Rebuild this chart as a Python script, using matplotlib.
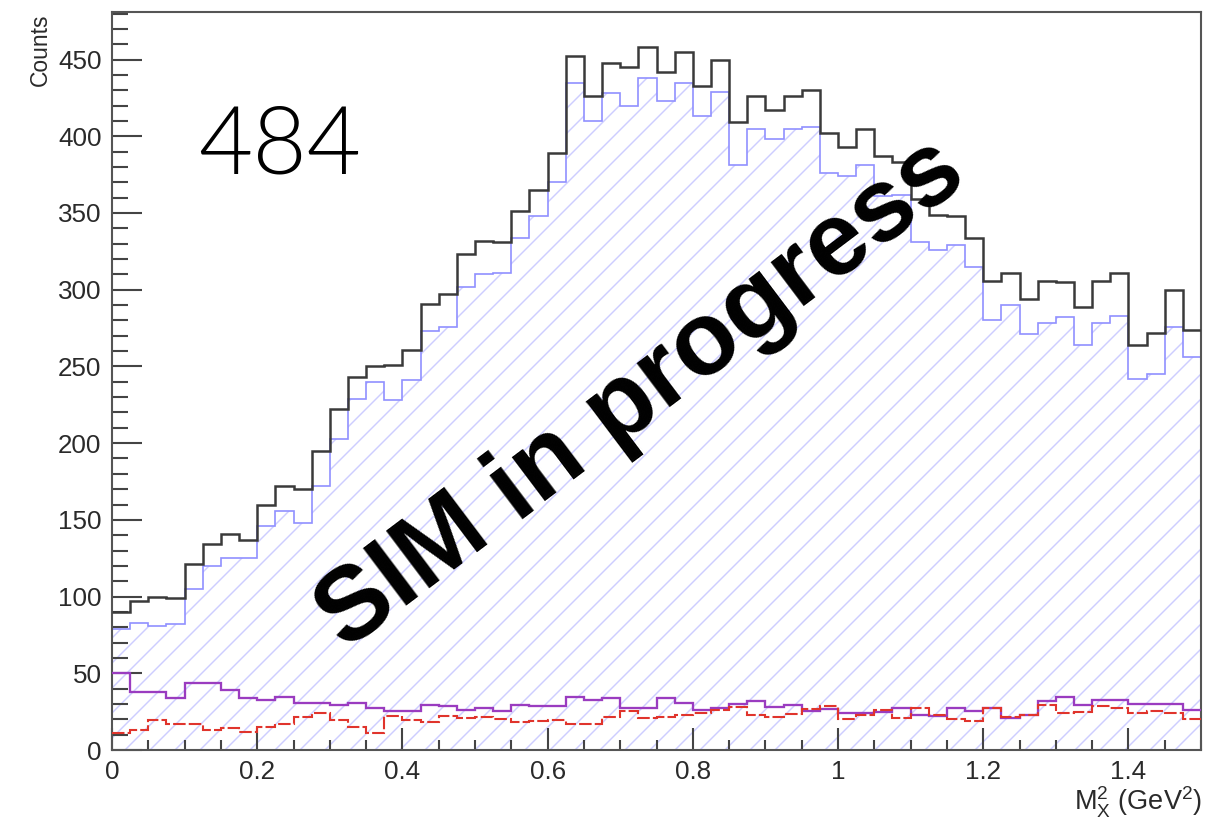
import numpy as np
import matplotlib
matplotlib.use("Agg")
import matplotlib.pyplot as plt
from matplotlib.ticker import MultipleLocator

# ---- data (counts per bin, 60 bins from 0 to 1.5 GeV^2) ----
bin_lo, bin_hi, n_bins = 0.0, 1.5, 60

total = [90, 97, 100, 99, 121, 134, 141, 137, 160, 172,
         170, 195, 222, 243, 250, 251, 261, 291, 297, 323,
         332, 331, 351, 365, 389, 452, 426, 448, 445, 458,
         442, 455, 433, 450, 409, 426, 417, 426, 430, 402,
         393, 405, 387, 383, 359, 349, 348, 334, 306, 311,
         294, 306, 305, 289, 306, 311, 264, 272, 300, 274]

signal = [79, 83, 81, 82, 105, 120, 125, 125, 146, 156,
          148, 172, 203, 229, 240, 228, 241, 273, 276, 302,
          310, 311, 334, 348, 370, 435, 410, 428, 420, 438,
          423, 435, 413, 429, 381, 405, 398, 405, 406, 376,
          374, 381, 361, 362, 331, 326, 329, 315, 280, 290,
          271, 278, 282, 264, 278, 283, 242, 245, 276, 256]

purple_bkg = [50.0, 38.0, 38.0, 33.7, 43.5, 43.5, 39.1, 34.1, 32.6, 34.8,
              30.9, 30.9, 29.3, 30.4, 27.2, 25.7, 25.7, 29.3, 28.7, 26.1,
              27.2, 25.7, 29.3, 28.7, 28.7, 34.4, 32.6, 33.7, 27.2, 27.2,
              33.7, 30.4, 26.1, 27.2, 30.0, 32.2, 27.8, 29.3, 25.7, 26.5,
              23.9, 24.3, 25.0, 27.2, 22.8, 22.2, 27.2, 25.7, 27.2, 20.7,
              22.8, 32.2, 34.4, 29.3, 32.6, 32.6, 30.0, 30.0, 30.0, 26.1]

red_bkg = [11.3, 13.0, 19.6, 17.0, 17.0, 13.0, 14.1, 12.0, 14.8, 17.0,
           21.7, 23.9, 19.6, 15.2, 10.9, 22.2, 19.6, 18.5, 22.2, 20.7,
           21.7, 20.0, 18.5, 19.1, 19.6, 17.0, 17.0, 21.3, 25.7, 20.7,
           21.7, 22.8, 24.3, 26.1, 27.8, 22.8, 21.7, 23.5, 26.5, 28.7,
           20.0, 22.8, 26.0, 20.7, 27.2, 22.8, 20.0, 19.1, 27.2, 21.3,
           22.8, 29.3, 23.9, 25.0, 28.7, 27.2, 23.9, 25.7, 23.9, 20.0]

x_ticks = [0, 0.2, 0.4, 0.6, 0.8, 1.0, 1.2, 1.4]
x_tick_labels = ["0", "0.2", "0.4", "0.6", "0.8", "1", "1.2", "1.4"]
y_ticks = [0, 50, 100, 150, 200, 250, 300, 350, 400, 450]

run_label = "484"
watermark = "SIM in progress"

edges = np.linspace(bin_lo, bin_hi, n_bins + 1)

# ---- figure ----
W, H, DPI = 1227, 822, 150
plt.rcParams['font.family'] = ['Liberation Sans', 'DejaVu Sans']
plt.rcParams['hatch.linewidth'] = 0.7
plt.rcParams['hatch.color'] = '#cdcdff'

fig = plt.figure(figsize=(W / DPI, H / DPI), dpi=DPI)
ax = fig.add_axes([112 / W, (H - 750) / H, (1201 - 112) / W, (750 - 12) / H])

# hatched signal fill
ax.stairs(signal, edges, fill=True, facecolor='none', edgecolor='#cdcdff',
          hatch='//', linewidth=0, zorder=1)
# outlines
ax.stairs(signal, edges, baseline=None, color='#9090ff', linewidth=0.8, zorder=2)
ax.stairs(total, edges, baseline=None, color='#3a3a3a', linewidth=1.2, zorder=3)
ax.stairs(purple_bkg, edges, baseline=None, color='#9a3cc0', linewidth=1.1, zorder=4)
ax.stairs(red_bkg, edges, baseline=None, color='#e0342c', linewidth=1.0,
          linestyle=(0, (6, 1.5)), zorder=5)

ax.set_xlim(bin_lo, bin_hi)
ax.set_ylim(0, 481)

ax.set_xticks(x_ticks)
ax.set_xticklabels(x_tick_labels)
ax.xaxis.set_minor_locator(MultipleLocator(0.05))
ax.set_yticks(y_ticks)
ax.yaxis.set_minor_locator(MultipleLocator(10))

ax.tick_params(axis='both', which='both', direction='in', colors='#444444',
               labelcolor='#2a2a2a', width=1.0, labelsize=12.5)
ax.tick_params(axis='y', which='major', length=14.5, pad=5)
ax.tick_params(axis='y', which='minor', length=7.5)
ax.tick_params(axis='x', which='major', length=10.5, pad=5)
ax.tick_params(axis='x', which='minor', length=5)
for s in ax.spines.values():
    s.set_color('#555555')
    s.set_linewidth(1.0)

fig.text(40 / W, 1 - 14 / H, "Counts", rotation=90, ha='center', va='top',
         fontsize=11, color='#2a2a2a')
fig.text(1202 / W, 1 - 810 / H,
         r"$\mathregular{M_{X}^{2}}$ (GeV$^{\mathregular{2}}$)",
         ha='right', va='baseline', fontsize=13, color='#2a2a2a')

fig.text(198 / W, 1 - 173 / H, run_label, ha='left', va='baseline',
         fontsize=45, fontweight=300, color='black',
         family=['Lato', 'Open Sans', 'DejaVu Sans'])

fig.text(642 / W, 1 - 395 / H, watermark, ha='center', va='center',
         rotation=37, rotation_mode='anchor', fontsize=50,
         fontweight='bold', color='black', zorder=10)

fig.savefig("out.png", dpi=DPI)
